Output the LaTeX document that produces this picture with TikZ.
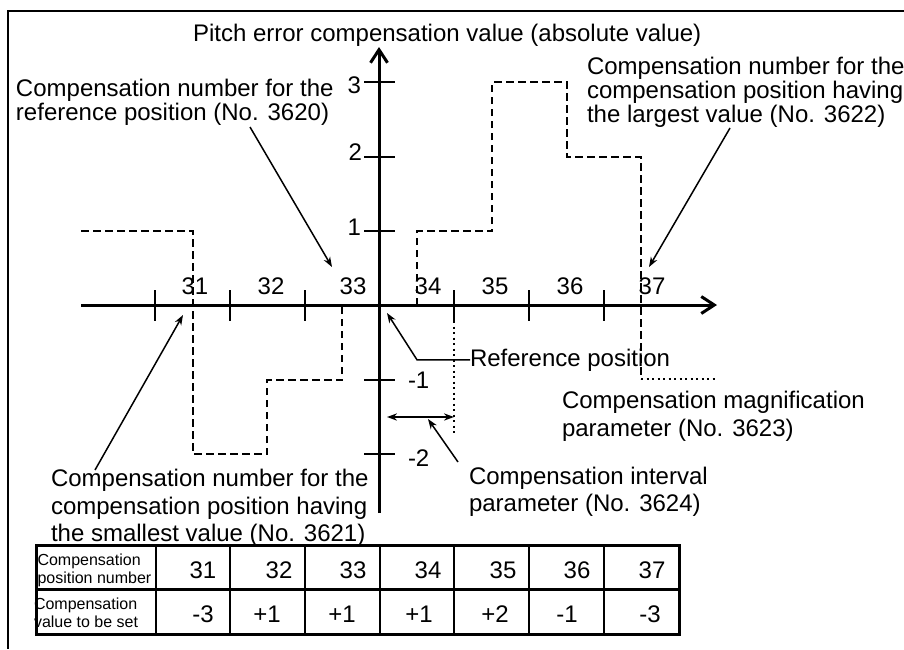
\documentclass[tikz,border=0pt]{standalone}
\usepackage{fontspec}
\setmainfont{Liberation Sans}
\usetikzlibrary{arrows.meta}
\begin{document}
\begin{tikzpicture}[x=0.5pt,y=-0.5pt,
  txt/.style={inner sep=0pt, outer sep=0pt, font=\fontsize{12}{12}\selectfont, align=left},
  txtw/.style={inner sep=0pt, outer sep=0pt, font=\fontsize{12}{13.75}\selectfont, align=left},
  small/.style={inner sep=0pt, outer sep=0pt, font=\fontsize{8}{8.75}\selectfont, align=left},
  num/.style={inner sep=0pt, outer sep=0pt, font=\fontsize{12}{12}\selectfont},
  axis/.style={line width=1.5pt, -{Straight Barb[length=6.5pt, width=8.5pt]}},
  tick/.style={line width=1pt},
  stepline/.style={line width=1.25pt, dash pattern=on 3.75pt off 2.25pt},
  dotline/.style={line width=1.2pt, dash pattern=on 1pt off 1.75pt},
  arr/.style={line width=0.75pt, -{Stealth[length=5pt, width=3.6pt, inset=1.6pt]}},
  darr/.style={line width=0.75pt, {Stealth[length=5pt, width=3.6pt, inset=1.6pt]}-{Stealth[length=5pt, width=3.6pt, inset=1.6pt]}},
  frame/.style={line width=0.9pt},
  outer/.style={line width=1.5pt},
  inner/.style={line width=1pt}]
\useasboundingbox (0,0) rectangle (904,649);
% frame
\draw[frame] (904,11) -- (8,11) -- (8,649);
% axes
\draw[axis] (379,513) -- (379,47);
\draw[axis] (81,305) -- (717,305);
% y ticks and labels
\foreach \yy in {82,157,231,380,454} \draw[tick] (364,\yy) -- (395,\yy);
\node[num, anchor=east] (y3) at (361,85) {3};
\node[num, anchor=east] (y2) at (362,152) {2};
\node[num, anchor=east] (y1) at (361,227) {1};
\node[num, anchor=west] (ym1) at (408,380) {-1};
\node[num, anchor=west] (ym2) at (408,458) {-2};
% x ticks and labels
\foreach \xx in {155,230,305,454,529,604} \draw[tick] (\xx,290) -- (\xx,321);
\node[num] (x31) at (195,286) {31};
\node[num] (x32) at (271,286) {32};
\node[num] (x33) at (353,286) {33};
\node[num] (x34) at (428,286) {34};
\node[num] (x35) at (495,286) {35};
\node[num] (x36) at (570,286) {36};
\node[num] (x37) at (652,286) {37};
% step function
\draw[stepline] (81,231) -- (193,231) -- (193,454) -- (267,454) -- (267,380) -- (342,380) -- (342,305);
\draw[stepline] (417,305) -- (417,231) -- (492,231) -- (492,82) -- (567,82) -- (567,157) -- (641,157) -- (641,379);
\draw[dotline] (641,379) -- (717,379);
\draw[dotline] (454,321) -- (454,433);
% texts
\node[txt, anchor=base west] (title) at (193,41) {Pitch error compensation value (absolute value)};
\node[txt, anchor=north west] (reftxt) at (16,79.5) {Compensation number for the\\reference position (No. 3620)};
\node[txt, anchor=north west] (largetxt) at (587,57.5) {Compensation number for the\\compensation position having\\the largest value (No. 3622)};
\node[txtw, anchor=north west] (smalltxt) at (51,469.5) {Compensation number for the\\compensation position having\\the smallest value (No. 3621)};
\node[txtw, anchor=north west] (magtxt) at (562,391.5) {Compensation magnification\\parameter (No. 3623)};
\node[txtw, anchor=north west] (inttxt) at (469,466.8) {Compensation interval\\parameter (No. 3624)};
\node[txt, anchor=base west] (refpos) at (470,366) {Reference position};
% arrows
\coordinate (a1s) at (250,127); \coordinate (a1e) at (332,267);
\coordinate (a2s) at (730,128); \coordinate (a2e) at (649,267);
\coordinate (a3s) at (95,470); \coordinate (a3e) at (183,315);
\coordinate (rk) at (417,358); \coordinate (rt) at (387,313);
\coordinate (i1) at (387,417); \coordinate (i2) at (454,417);
\coordinate (a4s) at (458,462); \coordinate (a4e) at (428,419);
\draw[arr] (a1s) -- (a1e);
\draw[arr] (a2s) -- (a2e);
\draw[arr] (a3s) -- (a3e);
\draw[arr] (refpos.west) -- (refpos.west -| rk) -- (rt);
\draw[darr] (i1) -- (i2);
\draw[arr] (a4s) -- (a4e);
% table
\draw[inner] \foreach \xx in {156,230,305,380,454,529,604} {(\xx,545) -- (\xx,634)};
\draw[outer] (36,589) -- (679,589);
\draw[outer] (36,545) rectangle (679,634);
\node[small, anchor=north west] (h1) at (37.5,554.3) {Compensation\\position number};
\node[small, anchor=north west] (h2) at (34,598.3) {Compensation\\value to be set};
\node[num] (n31) at (203,570) {31};
\node[num] (n32) at (279,570) {32};
\node[num] (n33) at (353,570) {33};
\node[num] (n34) at (428,570) {34};
\node[num] (n35) at (503,570) {35};
\node[num] (n36) at (577,570) {36};
\node[num] (n37) at (652,570) {37};
\node[num] (v31) at (203,614) {-3};
\node[num] (v32) at (267,614) {+1};
\node[num] (v33) at (342,614) {+1};
\node[num] (v34) at (419,614) {+1};
\node[num] (v35) at (495,614) {+2};
\node[num] (v36) at (567,614) {-1};
\node[num] (v37) at (650,614) {-3};
\end{tikzpicture}
\end{document}
